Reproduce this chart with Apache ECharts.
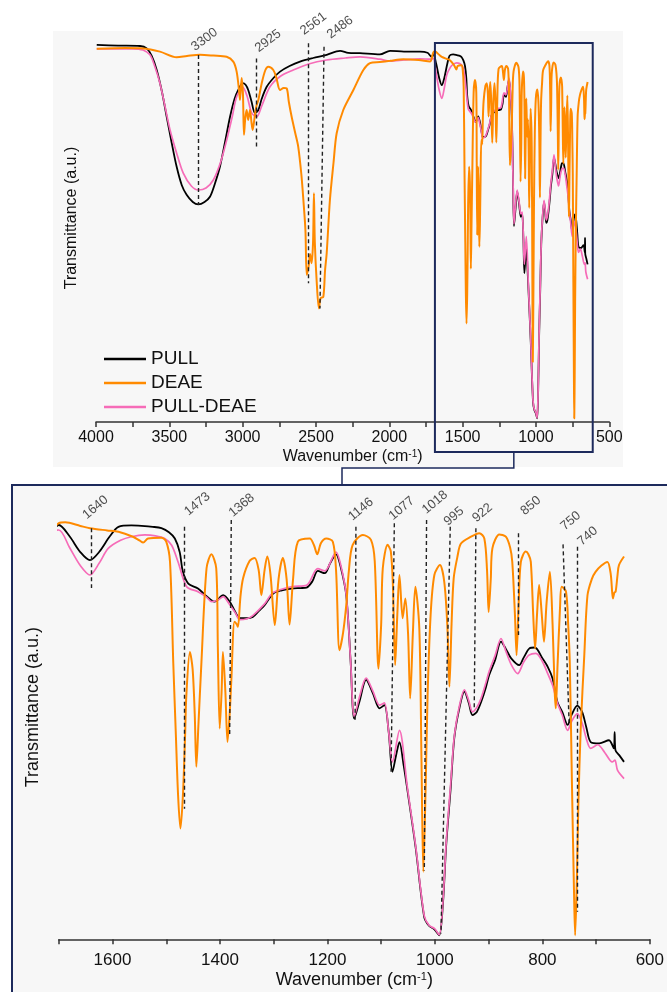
<!DOCTYPE html>
<html>
<head>
<meta charset="utf-8">
<script src="https://cdn.jsdelivr.net/npm/echarts@6.0.0/dist/echarts.min.js"></script>
<style>
  html, body { margin: 0; padding: 0; background: #fff; }
  #chart { width: 667px; height: 992px; }
</style>
</head>
<body>
<div id="chart"></div>
<script>
// wavenumber (cm-1), transmittance (a.u., 0-100)
// high range, low range off the zoomed panel
const pullHigh = [[3995,94.3],[3850,94.1],[3700,94.0],[3654,93.4],[3620,91.5],[3586,88.0],[3550,82.5],[3518,76.3],[3485,70.0],[3450,63.8],[3415,59.2],[3382,56.8],[3340,55.0],[3302,54.4],[3260,55.0],[3223,56.3],[3190,59.5],[3155,63.8],[3120,70.0],[3086,76.3],[3055,80.8],[3030,83.0],[3000,84.7],[2980,84.3],[2962,83.0],[2940,80.2],[2916,77.2],[2893,78.0],[2870,80.8],[2836,83.8],[2790,86.0],[2745,87.6],[2680,89.0],[2609,90.1],[2520,91.0],[2427,91.8],[2336,92.8],[2280,92.3],[2200,92.2],[2064,91.9],[1995,92.8],[1900,92.6],[1791,92.6],[1740,92.3],[1711,91.3]]
const pullLow = [[1700,92.0],[1680,89.5],[1660,86.0],[1642,84.2],[1625,86.0],[1605,89.5],[1589,91.6],[1565,91.9],[1546,91.8],[1525,91.6],[1509,91.3],[1495,90.4],[1484,89.0],[1475,86.0],[1469,81.6],[1459,79.0],[1441,77.9],[1428,76.5],[1416,75.3],[1410,75.0],[1394,76.4],[1382,75.0],[1372,72.8],[1363,71.3],[1350,71.3],[1339,71.6],[1327,73.0],[1317,74.2],[1301,76.8],[1285,77.5],[1267,77.9],[1250,78.0],[1239,78.1],[1228,79.5],[1218,81.8],[1205,81.3],[1195,83.5],[1184,85.5],[1176,83.0],[1165,76.4],[1157,62.0],[1150,49.0],[1140,53.0],[1128,57.6],[1115,54.5],[1103,51.3],[1094,52.0],[1086,46.0],[1079,37.2],[1072,41.0],[1066,43.8],[1058,38.5],[1051,33.0],[1036,20.5],[1020,5.0],[1011,3.0],[1001,2.2],[992,0.9],[985,8.0],[979,20.9],[971,33.0],[964,44.6],[955,51.0],[945,55.0],[937,52.5],[930,49.8],[922,50.5],[914,52.7],[905,56.0],[899,58.7],[888,62.0],[877,66.1],[868,64.5],[858,62.4],[843,60.9],[835,62.5],[824,64.6],[814,64.8],[800,62.4],[790,60.5],[781,57.9],[772,52.7],[763,50.5],[753,47.6],[745,50.0],[735,51.9],[726,50.5],[718,47.0],[710,43.8],[694,43.5],[676,44.2],[667,42.4],[665.5,46.0],[664,42.0],[657,40.9],[648,39.4]]

const pdHigh = [[3995,93.3],[3750,93.3],[3680,93.0],[3632,91.8],[3600,89.0],[3564,84.7],[3530,79.0],[3495,73.0],[3450,67.2],[3405,62.2],[3350,59.0],[3302,58.0],[3250,58.5],[3200,60.5],[3150,65.0],[3109,70.5],[3070,76.5],[3041,81.3],[3000,83.7],[2970,81.5],[2938,77.2],[2904,76.3],[2870,79.0],[2814,83.8],[2740,86.5],[2655,88.0],[2550,89.5],[2427,90.5],[2300,91.0],[2200,91.3],[2064,90.7],[1995,90.2],[1900,90.5],[1791,90.8],[1720,90.7]]
const pdLow = [[1700,90.9],[1680,87.0],[1660,83.0],[1642,80.9],[1625,83.5],[1608,86.8],[1585,88.6],[1565,89.4],[1540,89.8],[1520,89.6],[1503,89.0],[1490,87.5],[1478,83.8],[1462,78.3],[1441,77.2],[1425,76.0],[1416,75.0],[1404,75.3],[1394,76.1],[1384,74.7],[1372,72.6],[1363,71.0],[1350,71.2],[1339,71.9],[1317,74.5],[1301,77.0],[1267,78.3],[1239,78.6],[1218,82.3],[1205,81.8],[1184,86.0],[1176,83.5],[1165,76.4],[1157,62.0],[1150,49.5],[1140,54.0],[1128,58.0],[1115,55.0],[1103,52.0],[1094,52.5],[1086,46.0],[1079,39.4],[1066,46.4],[1051,33.5],[1036,20.9],[1020,5.3],[1011,3.1],[1001,2.4],[992,1.0],[985,8.5],[979,21.5],[971,34.0],[964,45.0],[955,51.5],[945,55.4],[937,53.0],[930,50.5],[922,51.5],[914,53.5],[905,57.0],[899,59.5],[888,63.0],[877,66.8],[868,64.0],[858,61.0],[846,59.0],[835,61.5],[825,63.1],[812,63.5],[800,61.7],[790,59.0],[781,56.4],[772,52.5],[763,49.8],[753,46.4],[745,48.5],[735,50.1],[726,48.0],[718,44.5],[710,42.4],[697,43.2],[684,41.5],[670,39.4],[665,39.8],[660,37.5],[648,35.7]]

const deaeHigh = [[3995,93.3],[3800,93.5],[3677,93.4],[3564,92.6],[3450,91.2],[3380,91.5],[3291,91.8],[3200,91.6],[3109,91.3],[3064,90.1],[3041,87.6],[3025,83.0],[3018,80.5],[3007,86.0],[2998,82.0],[2991,71.8],[2982,76.0],[2973,78.0],[2962,75.5],[2950,78.0],[2940,75.0],[2932,73.0],[2918,76.3],[2906,79.0],[2893,80.5],[2870,84.7],[2845,88.0],[2825,88.8],[2791,88.0],[2770,86.0],[2745,83.0],[2720,83.5],[2700,83.4],[2685,80.0],[2666,76.3],[2640,72.0],[2621,68.8],[2600,62.0],[2586,55.5],[2572,48.0],[2563,36.8],[2550,39.0],[2540,42.0],[2530,39.7],[2520,45.0],[2514,57.2],[2508,45.0],[2495,35.0],[2480,28.4],[2468,31.0],[2450,31.3],[2438,38.0],[2427,42.2],[2405,55.5],[2380,65.0],[2359,72.2],[2314,78.0],[2245,83.0],[2177,88.0],[2132,89.7],[2064,90.0],[1995,90.3],[1905,90.7],[1800,90.5],[1723,90.1]]
const deaeLow = [[1700,92.4],[1688,92.6],[1660,91.8],[1642,91.3],[1610,90.8],[1589,90.5],[1562,89.4],[1550,88.6],[1543,88.1],[1534,89.0],[1509,89.2],[1500,88.3],[1493,83.8],[1487,61.6],[1482,45.0],[1478,32.0],[1473.6,24.6],[1469,32.0],[1465,45.0],[1462.6,54.2],[1456,63.8],[1451,60.1],[1447,50.0],[1444,38.3],[1440,48.0],[1434.5,61.6],[1425,82.4],[1416,85.5],[1407,82.4],[1404,65.0],[1400.5,46.8],[1397,55.0],[1394.5,63.8],[1390,55.0],[1386,43.8],[1382,50.0],[1379,57.2],[1373,70.5],[1369,70.0],[1366.6,69.4],[1362,76.0],[1357,80.2],[1345,84.0],[1335.5,84.7],[1328,82.0],[1323,76.4],[1317,82.0],[1312,85.0],[1306,81.0],[1298,69.8],[1291,80.0],[1283,84.7],[1276,80.0],[1270.5,69.9],[1264,80.0],[1255,88.3],[1233,89.0],[1225,87.5],[1219,85.5],[1212,88.0],[1202,89.0],[1190,88.3],[1184,82.0],[1177.6,64.2],[1171,68.0],[1165,74.2],[1160,82.0],[1153,87.6],[1134,89.8],[1119,88.7],[1112,84.0],[1105,60.1],[1100,70.0],[1097,82.4],[1088,87.6],[1082,86.1],[1078,78.0],[1074,60.9],[1070,72.0],[1066,80.9],[1060,71.3],[1055,75.7],[1050,68.0],[1046,53.5],[1041,68.0],[1036.4,78.3],[1029,69.0],[1025,40.0],[1021.6,15.0],[1017,35.0],[1013.6,54.2],[1008,72.0],[1001,80.9],[990.6,83.1],[982.6,79.4],[977,70.0],[973,56.1],[969,70.0],[965,80.2],[958,85.0],[951.5,87.9],[933,89.4],[917.5,90.2],[908,89.0],[903,82.0],[900,72.7],[896,80.0],[893,86.8],[880,89.9],[868,89.4],[860,87.0],[856,83.8],[851,72.0],[848,63.1],[844,75.0],[840,83.8],[831,86.1],[826,85.5],[821.5,83.8],[817,72.0],[813.5,64.6],[810,72.0],[806,78.7],[801,72.0],[797,66.1],[792,75.0],[786,81.6],[781,70.0],[777,55.0],[775,51.3],[772,60.0],[767,74.0],[764,78.3],[756,77.2],[752,70.0],[749,61.6],[745,35.0],[741,10.0],[739,0.9],[736,12.0],[733,30.0],[728.6,46.8],[722,63.0],[716,76.4],[708,80.0],[701,81.6],[690,83.0],[679,83.8],[673,81.3],[670,77.0],[668.6,75.7],[666,77.0],[663.6,77.2],[660,81.0],[657.4,83.1],[648,85.0]]

// band markers: label, top [wn, T], bottom [wn, T]
const topMarks = [['3300',3302,91.75,3302,54.25],['2925',2909,90.9,2909,68.8],['2561',2552,94.7,2552,34.7],['2486',2445,93.8,2473,28.4]]
const bottomMarks = [['1640',1640,91.3,1640,78.0],['1473',1467,91.6,1467,29.0],['1368',1379,93.1,1382,45.3],['1146',1147,91.6,1148.5,48.3],['1077',1075.5,92.4,1081.6,37.2],['1018',1015.5,93.1,1019.7,15.3],['995',971.4,91.6,988.7,1.3],['922',923.7,91.3,926.8,51.3],['850',845,90.2,845,67.6],['750',761.5,87.7,750.3,48.3],['740',735.4,87.2,735.4,6.1]]
const zoomRange = [1689, 613]

// label nudges in px (placement only)
const topNudge = [[-1,-1],[5,-3],[-2,-5],[9,-5]]
const bottomNudge = [[-2,-6],[7,-8],[4,0],[-1,-3],[1,0],[2,-3],[0,2],[3,-3],[9,-15],[4,-11],[7,2]]

const FONT = '"Liberation Sans", Arial, sans-serif'
const NAVY = '#1d2a5c'
const colors = { 'PULL': '#000000', 'DEAE': '#ff8a00', 'PULL-DEAE': '#f66cb8' }

const pull = pullHigh.concat(pullLow)
const pullDeae = pdHigh.concat(pdLow)
const deae = deaeHigh.concat(deaeLow)

function spectra(idx) {
  return [
    ['PULL', pull, 1.8],
    ['PULL-DEAE', pullDeae, 1.7],
    ['DEAE', deae, 2]
  ].map(([name, data, w]) => ({
    name: name,
    type: 'line',
    xAxisIndex: idx,
    yAxisIndex: idx,
    data: data,
    showSymbol: false,
    symbol: 'none',
    smooth: 0.3,
    lineStyle: { color: colors[name], width: w },
    itemStyle: { color: colors[name] },
    z: 3
  }))
}

function dashes(idx, marks) {
  return {
    type: 'lines',
    coordinateSystem: 'cartesian2d',
    xAxisIndex: idx,
    yAxisIndex: idx,
    silent: true,
    z: 4,
    data: marks.map(m => ({ coords: [[m[1], m[2]], [m[3], m[4]]] })),
    lineStyle: { color: '#222', width: 1.4, type: [4, 3], opacity: 1, curveness: 0 }
  }
}

function tags(idx, marks, nudge, rot, size) {
  return {
    type: 'scatter',
    xAxisIndex: idx,
    yAxisIndex: idx,
    symbolSize: 1,
    silent: true,
    z: 5,
    itemStyle: { color: 'rgba(0,0,0,0)' },
    data: marks.map((m, i) => ({
      value: [m[1], m[2]],
      label: {
        show: true,
        formatter: m[0],
        position: nudge[i],
        rotate: rot,
        align: 'left',
        verticalAlign: 'bottom',
        color: '#222',
        fontSize: size,
        fontFamily: FONT
      }
    }))
  }
}

function xAx(idx, min, max, step, labelStep, fs, margin, gap, nameFs) {
  return {
    gridIndex: idx,
    type: 'value',
    min: min,
    max: max,
    interval: step,
    inverse: true,
    axisLine: { lineStyle: { color: '#333', width: 1.5 } },
    axisTick: { length: 5, lineStyle: { color: '#333', width: 1.5 } },
    axisLabel: {
      formatter: v => (v % labelStep === 0 ? String(v) : ''),
      fontSize: fs, color: '#111', margin: margin, fontFamily: FONT
    },
    splitLine: { show: false },
    name: 'Wavenumber (cm{sup|-1})',
    nameLocation: 'middle',
    nameGap: gap,
    nameTextStyle: {
      fontSize: nameFs, color: '#111', fontFamily: FONT,
      rich: { sup: { fontSize: Math.round(nameFs * 0.6), verticalAlign: 'top', color: '#111', fontFamily: FONT } }
    }
  }
}

function yAx(idx, gap, fs, pad) {
  return {
    gridIndex: idx,
    type: 'value',
    min: 0,
    max: 100,
    axisLine: { show: false },
    axisTick: { show: false },
    axisLabel: { show: false },
    splitLine: { show: false },
    name: 'Transmittance (a.u.)',
    nameLocation: 'middle',
    nameRotate: 90,
    nameGap: gap,
    nameTextStyle: { fontSize: fs, color: '#111', fontFamily: FONT, padding: pad }
  }
}

const chart = echarts.init(document.getElementById('chart'))
chart.setOption({
  animation: false,
  backgroundColor: '#ffffff',
  grid: [
    { left: 96, top: 22, width: 513.3, height: 400 },
    { left: 58.8, top: 489, width: 592.9, height: 450.3 }
  ],
  legend: {
    data: ['PULL', 'DEAE', 'PULL-DEAE'],
    orient: 'vertical',
    left: 99,
    top: 344,
    icon: 'rect',
    itemWidth: 42,
    itemHeight: 2.5,
    itemGap: 4,
    selectedMode: false,
    textStyle: { fontSize: 19, lineHeight: 20, color: '#111', fontFamily: FONT }
  },
  xAxis: [
    xAx(0, 500, 4000, 250, 500, 16, 8, 27, 16),
    xAx(1, 600, 1700, 100, 200, 17, 13, 32, 18)
  ],
  yAxis: [yAx(0, 16, 16, [0, 0, 0, 8]), yAx(1, 17, 18, [0, 0, 0, 14])],
  series: [
    ...spectra(0),
    ...spectra(1),
    dashes(0, topMarks),
    dashes(1, bottomMarks),
    tags(0, topMarks, topNudge, 37, 13),
    tags(1, bottomMarks, bottomNudge, 40, 13)
  ]
})

// panel backgrounds, zoom box and connector
const bx0 = chart.convertToPixel({ xAxisIndex: 0 }, zoomRange[0])
const bx1 = chart.convertToPixel({ xAxisIndex: 0 }, zoomRange[1])
const mid = (bx0 + bx1) / 2
chart.setOption({
  graphic: [
    { type: 'rect', z: -10, shape: { x: 53, y: 31, width: 570, height: 436 }, style: { fill: '#f7f7f7' } },
    { type: 'rect', z: -10, shape: { x: 13, y: 486, width: 654, height: 506 }, style: { fill: '#f7f7f7' } },
    { type: 'polyline', z: 50, shape: { points: [[12, 992], [12, 485], [667, 485]] }, style: { fill: null, stroke: NAVY, lineWidth: 2 } },
    { type: 'rect', z: 50, shape: { x: bx0, y: 43, width: bx1 - bx0, height: 409 }, style: { fill: null, stroke: NAVY, lineWidth: 2 } },
    { type: 'polyline', z: 50, shape: { points: [[mid, 452], [mid, 468], [342, 468], [342, 485]] }, style: { fill: null, stroke: NAVY, lineWidth: 1.5 } }
  ]
})
</script>
</body>
</html>
